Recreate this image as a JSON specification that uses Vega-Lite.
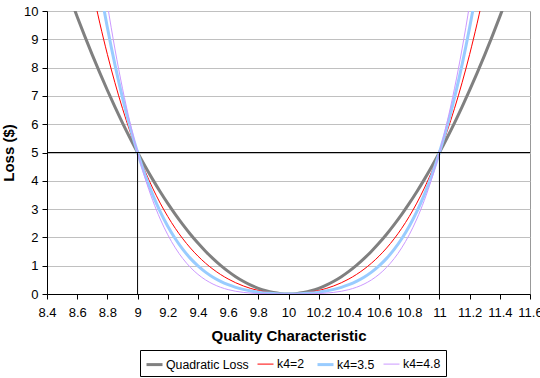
{
  "$schema": "https://vega.github.io/schema/vega-lite/v6.json",
  "width": 483,
  "height": 283,
  "autosize": {"type": "none"},
  "padding": {"left": 47, "top": 11, "right": 10, "bottom": 84},
  "background": "white",
  "config": {
    "font": "Liberation Sans",
    "view": {"stroke": "#999999", "strokeWidth": 1},
    "axis": {
      "domainColor": "black",
      "tickColor": "black",
      "tickSize": 5,
      "labelColor": "black",
      "labelFontSize": 13,
      "titleColor": "black",
      "titleFontSize": 15,
      "titleFontWeight": "bold",
      "gridColor": "#c0c0c0",
      "labelOverlap": false
    },
    "axisX": {"grid": false, "labelPadding": 7, "titlePadding": 9, "labelFlush": false, "format": "~f"},
    "axisY": {"grid": true, "labelPadding": 4, "titlePadding": 7},
    "legend": {
      "labelFontSize": 12.3,
      "labelColor": "black"
    }
  },
  "layer": [
    {
      "data": {
        "values": [
          {"x": 8.55, "q": 10.5125, "a": 15.1485, "b": 18.6255, "c": 21.6389},
          {"x": 8.6, "q": 9.8, "a": 13.5632, "b": 16.3856, "c": 18.8317},
          {"x": 8.65, "q": 9.1125, "a": 12.1105, "b": 14.359, "c": 16.3077},
          {"x": 8.7, "q": 8.45, "a": 10.7822, "b": 12.5314, "c": 14.0473},
          {"x": 8.75, "q": 7.8125, "a": 9.5703, "b": 10.8887, "c": 12.0313},
          {"x": 8.8, "q": 7.2, "a": 8.4672, "b": 9.4176, "c": 10.2413},
          {"x": 8.85, "q": 6.6125, "a": 7.4655, "b": 8.1053, "c": 8.6597},
          {"x": 8.9, "q": 6.05, "a": 6.5582, "b": 6.9394, "c": 7.2697},
          {"x": 8.95, "q": 5.5125, "a": 5.7385, "b": 5.908, "c": 6.0549},
          {"x": 9.0, "q": 5, "a": 5, "b": 5, "c": 5},
          {"x": 9.05, "q": 4.5125, "a": 4.3365, "b": 4.2045, "c": 4.0901},
          {"x": 9.1, "q": 4.05, "a": 3.7422, "b": 3.5114, "c": 3.3113},
          {"x": 9.15, "q": 3.6125, "a": 3.2115, "b": 2.9108, "c": 2.6501},
          {"x": 9.2, "q": 3.2, "a": 2.7392, "b": 2.3936, "c": 2.0941},
          {"x": 9.25, "q": 2.8125, "a": 2.3203, "b": 1.9512, "c": 1.6313},
          {"x": 9.3, "q": 2.45, "a": 1.9502, "b": 1.5754, "c": 1.2505},
          {"x": 9.35, "q": 2.1125, "a": 1.6245, "b": 1.2585, "c": 0.9413},
          {"x": 9.4, "q": 1.8, "a": 1.3392, "b": 0.9936, "c": 0.6941},
          {"x": 9.45, "q": 1.5125, "a": 1.0905, "b": 0.774, "c": 0.4997},
          {"x": 9.5, "q": 1.25, "a": 0.875, "b": 0.5938, "c": 0.35},
          {"x": 9.55, "q": 1.0125, "a": 0.6895, "b": 0.4473, "c": 0.2373},
          {"x": 9.6, "q": 0.8, "a": 0.5312, "b": 0.3296, "c": 0.1549},
          {"x": 9.65, "q": 0.6125, "a": 0.3975, "b": 0.2363, "c": 0.0965},
          {"x": 9.7, "q": 0.45, "a": 0.2862, "b": 0.1634, "c": 0.0569},
          {"x": 9.75, "q": 0.3125, "a": 0.1953, "b": 0.1074, "c": 0.0313},
          {"x": 9.8, "q": 0.2, "a": 0.1232, "b": 0.0656, "c": 0.0157},
          {"x": 9.85, "q": 0.1125, "a": 0.0685, "b": 0.0355, "c": 0.0069},
          {"x": 9.9, "q": 0.05, "a": 0.0302, "b": 0.0154, "c": 0.0025},
          {"x": 9.95, "q": 0.0125, "a": 0.0075, "b": 0.0038, "c": 0.0005},
          {"x": 10.0, "q": 0, "a": 0, "b": 0, "c": 0},
          {"x": 10.05, "q": 0.0125, "a": 0.0075, "b": 0.0038, "c": 0.0005},
          {"x": 10.1, "q": 0.05, "a": 0.0302, "b": 0.0154, "c": 0.0025},
          {"x": 10.15, "q": 0.1125, "a": 0.0685, "b": 0.0355, "c": 0.0069},
          {"x": 10.2, "q": 0.2, "a": 0.1232, "b": 0.0656, "c": 0.0157},
          {"x": 10.25, "q": 0.3125, "a": 0.1953, "b": 0.1074, "c": 0.0313},
          {"x": 10.3, "q": 0.45, "a": 0.2862, "b": 0.1634, "c": 0.0569},
          {"x": 10.35, "q": 0.6125, "a": 0.3975, "b": 0.2363, "c": 0.0965},
          {"x": 10.4, "q": 0.8, "a": 0.5312, "b": 0.3296, "c": 0.1549},
          {"x": 10.45, "q": 1.0125, "a": 0.6895, "b": 0.4473, "c": 0.2373},
          {"x": 10.5, "q": 1.25, "a": 0.875, "b": 0.5938, "c": 0.35},
          {"x": 10.55, "q": 1.5125, "a": 1.0905, "b": 0.774, "c": 0.4997},
          {"x": 10.6, "q": 1.8, "a": 1.3392, "b": 0.9936, "c": 0.6941},
          {"x": 10.65, "q": 2.1125, "a": 1.6245, "b": 1.2585, "c": 0.9413},
          {"x": 10.7, "q": 2.45, "a": 1.9502, "b": 1.5754, "c": 1.2505},
          {"x": 10.75, "q": 2.8125, "a": 2.3203, "b": 1.9512, "c": 1.6313},
          {"x": 10.8, "q": 3.2, "a": 2.7392, "b": 2.3936, "c": 2.0941},
          {"x": 10.85, "q": 3.6125, "a": 3.2115, "b": 2.9108, "c": 2.6501},
          {"x": 10.9, "q": 4.05, "a": 3.7422, "b": 3.5114, "c": 3.3113},
          {"x": 10.95, "q": 4.5125, "a": 4.3365, "b": 4.2045, "c": 4.0901},
          {"x": 11.0, "q": 5, "a": 5, "b": 5, "c": 5},
          {"x": 11.05, "q": 5.5125, "a": 5.7385, "b": 5.908, "c": 6.0549},
          {"x": 11.1, "q": 6.05, "a": 6.5582, "b": 6.9394, "c": 7.2697},
          {"x": 11.15, "q": 6.6125, "a": 7.4655, "b": 8.1053, "c": 8.6597},
          {"x": 11.2, "q": 7.2, "a": 8.4672, "b": 9.4176, "c": 10.2413},
          {"x": 11.25, "q": 7.8125, "a": 9.5703, "b": 10.8887, "c": 12.0313},
          {"x": 11.3, "q": 8.45, "a": 10.7822, "b": 12.5314, "c": 14.0473},
          {"x": 11.35, "q": 9.1125, "a": 12.1105, "b": 14.359, "c": 16.3077},
          {"x": 11.4, "q": 9.8, "a": 13.5632, "b": 16.3856, "c": 18.8317},
          {"x": 11.45, "q": 10.5125, "a": 15.1485, "b": 18.6255, "c": 21.6389}
        ]
      },
      "transform": [{"fold": ["q", "a", "b", "c"], "as": ["series", "loss"]}],
      "mark": {"type": "line", "clip": true, "interpolate": "monotone"},
      "encoding": {
        "x": {
          "field": "x",
          "type": "quantitative",
          "title": "Quality Characteristic",
          "scale": {"domain": [8.4, 11.6], "nice": false, "zero": false},
          "axis": {"values": [8.4, 8.6, 8.8, 9, 9.2, 9.4, 9.6, 9.8, 10, 10.2, 10.4, 10.6, 10.8, 11, 11.2, 11.4, 11.6]}
        },
        "y": {
          "field": "loss",
          "type": "quantitative",
          "title": "Loss ($)",
          "scale": {"domain": [0, 10], "nice": false},
          "axis": {"values": [0, 1, 2, 3, 4, 5, 6, 7, 8, 9, 10]}
        },
        "color": {
          "field": "series",
          "type": "nominal",
          "scale": {"domain": ["q", "a", "b", "c"], "range": ["#808080", "#ff0000", "#99ccff", "#cc99ff"]},
          "legend": {
            "title": null,
            "orient": "none",
            "direction": "horizontal",
            "columns": 4,
            "legendX": 93,
            "legendY": 339,
            "padding": 5,
            "columnPadding": 6,
            "strokeColor": "black",
            "symbolType": "stroke",
            "symbolSize": 256,
            "labelOffset": 2,
            "labelExpr": "datum.label == 'q' ? 'Quadratic Loss' : datum.label == 'a' ? 'k4=2' : datum.label == 'b' ? 'k4=3.5' : 'k4=4.8'"
          }
        },
        "strokeWidth": {
          "field": "series",
          "type": "nominal",
          "scale": {"type": "ordinal", "domain": ["q", "a", "b", "c"], "range": [3, 1, 3, 1]},
          "legend": null
        }
      }
    },
    {
      "data": {"values": [{"loss": 5}]},
      "mark": {"type": "rule", "color": "black", "strokeWidth": 1},
      "encoding": {
        "y": {
          "field": "loss",
          "type": "quantitative",
          "title": "Loss ($)",
          "axis": {"values": [0, 1, 2, 3, 4, 5, 6, 7, 8, 9, 10]}
        }
      }
    },
    {
      "data": {"values": [{"x": 9, "base": 0, "loss": 5}, {"x": 11, "base": 0, "loss": 5}]},
      "mark": {"type": "rule", "color": "black", "strokeWidth": 1},
      "encoding": {
        "x": {
          "field": "x",
          "type": "quantitative",
          "title": "Quality Characteristic",
          "axis": {"values": [8.4, 8.6, 8.8, 9, 9.2, 9.4, 9.6, 9.8, 10, 10.2, 10.4, 10.6, 10.8, 11, 11.2, 11.4, 11.6]}
        },
        "y": {
          "field": "base",
          "type": "quantitative",
          "title": "Loss ($)",
          "axis": {"values": [0, 1, 2, 3, 4, 5, 6, 7, 8, 9, 10]}
        },
        "y2": {"field": "loss"}
      }
    }
  ]
}
